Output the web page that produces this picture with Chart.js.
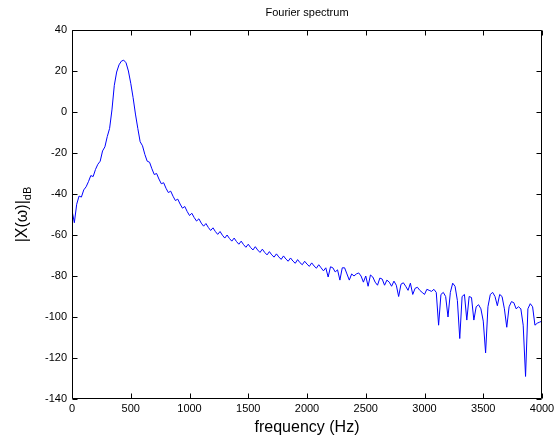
<!DOCTYPE html>
<html>
<head>
<meta charset="utf-8">
<script src="https://cdn.jsdelivr.net/npm/chart.js@4.4.1/dist/chart.umd.min.js"></script>
<style>
  html, body { margin: 0; padding: 0; background: #fff; }
  #wrap { width: 558px; height: 442px; position: relative; }
</style>
</head>
<body>
<div id="wrap"><canvas id="c" width="558" height="442"></canvas></div>
<script>
// ---- Data ----
const chartTitle = "Fourier spectrum";
const xAxisLabel = "frequency (Hz)";
const yAxisLabelMain = "|X(\u03C9)|";
const yAxisLabelSub = "dB";

const xTicks = [0, 500, 1000, 1500, 2000, 2500, 3000, 3500, 4000];
const yTicks = [-140, -120, -100, -80, -60, -40, -20, 0, 20, 40];

const frequencyHz = [
  0, 20, 40, 60, 80, 100, 120, 140, 160, 180,
  200, 220, 240, 260, 280, 300, 320, 340, 360, 380,
  400, 420, 440, 460, 480, 500, 520, 540, 560, 580,
  600, 620, 640, 660, 680, 700, 720, 740, 760, 780,
  800, 820, 840, 860, 880, 900, 920, 940, 960, 980,
  1000, 1020, 1040, 1060, 1080, 1100, 1120, 1140, 1160, 1180,
  1200, 1220, 1240, 1260, 1280, 1300, 1320, 1340, 1360, 1380,
  1400, 1420, 1440, 1460, 1480, 1500, 1520, 1540, 1560, 1580,
  1600, 1620, 1640, 1660, 1680, 1700, 1720, 1740, 1760, 1780,
  1800, 1820, 1840, 1860, 1880, 1900, 1920, 1940, 1960, 1980,
  2000, 2020, 2040, 2060, 2080, 2100, 2120, 2140, 2160, 2180,
  2200, 2220, 2240, 2260, 2280, 2300, 2320, 2340, 2360, 2380,
  2400, 2420, 2440, 2460, 2480, 2500, 2520, 2540, 2560, 2580,
  2600, 2620, 2640, 2660, 2680, 2700, 2720, 2740, 2760, 2780,
  2800, 2820, 2840, 2860, 2880, 2900, 2920, 2940, 2960, 2980,
  3000, 3020, 3040, 3060, 3080, 3100, 3120, 3140, 3160, 3180,
  3200, 3220, 3240, 3260, 3280, 3300, 3320, 3340, 3360, 3380,
  3400, 3420, 3440, 3460, 3480, 3500, 3520, 3540, 3560, 3580,
  3600, 3620, 3640, 3660, 3680, 3700, 3720, 3740, 3760, 3780,
  3800, 3820, 3840, 3860, 3880, 3900, 3920, 3940, 3960, 3980,
  4000
];

const magnitudeDb = [
  -48, -54, -45, -41, -41.5, -38, -36.5, -34, -31, -31.5,
  -28, -25.5, -24, -19, -17, -12, -8, 1, 13, 19.5,
  23, 24.8, 25.3, 24, 20, 14, 7, -1, -8, -14.5,
  -16.5, -20.7, -24, -24.5, -27.7, -30.5, -30, -32.7, -35, -34.5,
  -37.2, -39.3, -38.6, -41.1, -43.2, -42.5, -44.9, -46.9, -46.1, -48.5,
  -50.5, -49.4, -51.5, -53.2, -52.1, -54.2, -55.7, -54.4, -56.3, -57.8,
  -56.5, -58.3, -59.7, -58.3, -60.1, -61.5, -60, -61.7, -63, -61.5,
  -63.2, -64.5, -63, -64.7, -66, -64.5, -66.1, -67.3, -65.7, -67.3,
  -68.5, -66.9, -68.5, -69.7, -68.1, -69.7, -70.8, -69.2, -70.7, -71.9,
  -70.2, -71.7, -72.8, -71.2, -72.7, -73.8, -72, -73.5, -74.5, -72.8,
  -74.2, -75.3, -73.6, -75.1, -76.2, -74.5, -76, -77.5, -76, -80.5,
  -75.5, -76, -78, -77, -82, -76, -76, -79, -82, -79,
  -80, -79, -78.5, -80, -83, -80, -85, -79.5, -80.5, -83,
  -84.5, -81, -81.5, -84.5, -82, -83, -85, -82.5, -84.5, -90,
  -84, -83.3, -85, -87, -83.5, -89, -86, -85.5, -87, -88,
  -89, -86.5, -87, -87.5, -86.5, -88, -104, -89, -88, -90,
  -100, -88, -83.5, -85, -92, -110.5, -90, -89, -101.5, -90,
  -90.5, -101.5, -95, -94, -96, -102, -117.5, -95, -89, -88,
  -90, -94.5, -89, -90, -96, -105, -95, -92.5, -93, -96,
  -95, -96, -104, -129, -96, -93.5, -95, -104, -103, -102.5,
  -102
];

// ---- Build points for the library ----
const points = frequencyHz.map((f, i) => ({ x: f, y: magnitudeDb[i] }));

const PLOT_LEFT = 72, PLOT_RIGHT = 542, PLOT_TOP = 30, PLOT_BOTTOM = 399;
const FONT = '"Liberation Sans", Arial, Helvetica, sans-serif';

const framePlugin = {
  id: 'matlabFrame',
  afterDraw(chart) {
    const ctx = chart.ctx;
    const a = chart.chartArea;
    const xs = chart.scales.x, ys = chart.scales.y;
    ctx.save();
    ctx.strokeStyle = '#000';
    ctx.lineWidth = 1;
    const L = Math.round(a.left) + 0.5, R = Math.round(a.right) - 0.5;
    const T = Math.round(a.top) + 0.5, B = Math.round(a.bottom) - 0.5;
    ctx.beginPath();
    ctx.rect(L, T, R - L, B - T);
    ctx.stroke();
    const tl = 5;
    ctx.beginPath();
    xTicks.forEach(v => {
      const px = Math.round(xs.getPixelForValue(v)) + 0.5;
      ctx.moveTo(px, B); ctx.lineTo(px, B - tl);
      ctx.moveTo(px, T); ctx.lineTo(px, T + tl);
    });
    yTicks.forEach(v => {
      const py = Math.round(ys.getPixelForValue(v)) + 0.5;
      ctx.moveTo(L, py); ctx.lineTo(L + tl, py);
      ctx.moveTo(R, py); ctx.lineTo(R - tl, py);
    });
    ctx.stroke();

    // Title
    ctx.fillStyle = '#000';
    ctx.textAlign = 'center';
    ctx.textBaseline = 'middle';
    ctx.font = '11px ' + FONT;
    ctx.fillText(chartTitle, (a.left + a.right) / 2, 13);

    // X axis label
    ctx.font = '16px ' + FONT;
    ctx.fillText(xAxisLabel, (a.left + a.right) / 2, 428);

    // Y axis label with subscript
    ctx.save();
    ctx.translate(22, (a.top + a.bottom) / 2);
    ctx.rotate(-Math.PI / 2);
    ctx.font = '16px ' + FONT;
    const mainW = ctx.measureText(yAxisLabelMain).width;
    ctx.font = '11px ' + FONT;
    const subW = ctx.measureText(yAxisLabelSub).width;
    const total = mainW + subW;
    ctx.textAlign = 'left';
    ctx.textBaseline = 'alphabetic';
    ctx.font = '16px ' + FONT;
    ctx.fillText(yAxisLabelMain, -total / 2, 5);
    ctx.font = '11px ' + FONT;
    ctx.fillText(yAxisLabelSub, -total / 2 + mainW, 9);
    ctx.restore();
    ctx.restore();
  }
};

new Chart(document.getElementById('c'), {
  type: 'line',
  data: {
    datasets: [{
      data: points,
      borderColor: '#0000ff',
      borderWidth: 1,
      pointRadius: 0,
      tension: 0,
      fill: false
    }]
  },
  options: {
    responsive: false,
    animation: false,
    devicePixelRatio: 1,
    layout: { padding: { left: 0, right: 558 - PLOT_RIGHT, top: PLOT_TOP, bottom: 0 } },
    plugins: { legend: { display: false }, title: { display: false }, tooltip: { enabled: false } },
    scales: {
      x: {
        type: 'linear',
        min: 0, max: 4000,
        afterBuildTicks(scale) { scale.ticks = xTicks.map(v => ({ value: v })); },
        afterFit(scale) { scale.height = 442 - PLOT_BOTTOM; },
        grid: { display: false, drawTicks: false },
        border: { display: false },
        ticks: { color: '#000', font: { size: 11, family: FONT }, padding: 3, maxRotation: 0, autoSkip: false,
                 callback: v => String(v) }
      },
      y: {
        type: 'linear',
        min: -140, max: 40,
        afterBuildTicks(scale) { scale.ticks = yTicks.map(v => ({ value: v })); },
        afterFit(scale) { scale.width = PLOT_LEFT; },
        grid: { display: false, drawTicks: false },
        border: { display: false },
        ticks: { color: '#000', font: { size: 11, family: FONT }, padding: 5, autoSkip: false,
                 callback: v => String(v) }
      }
    }
  },
  plugins: [framePlugin]
});
</script>
</body>
</html>
